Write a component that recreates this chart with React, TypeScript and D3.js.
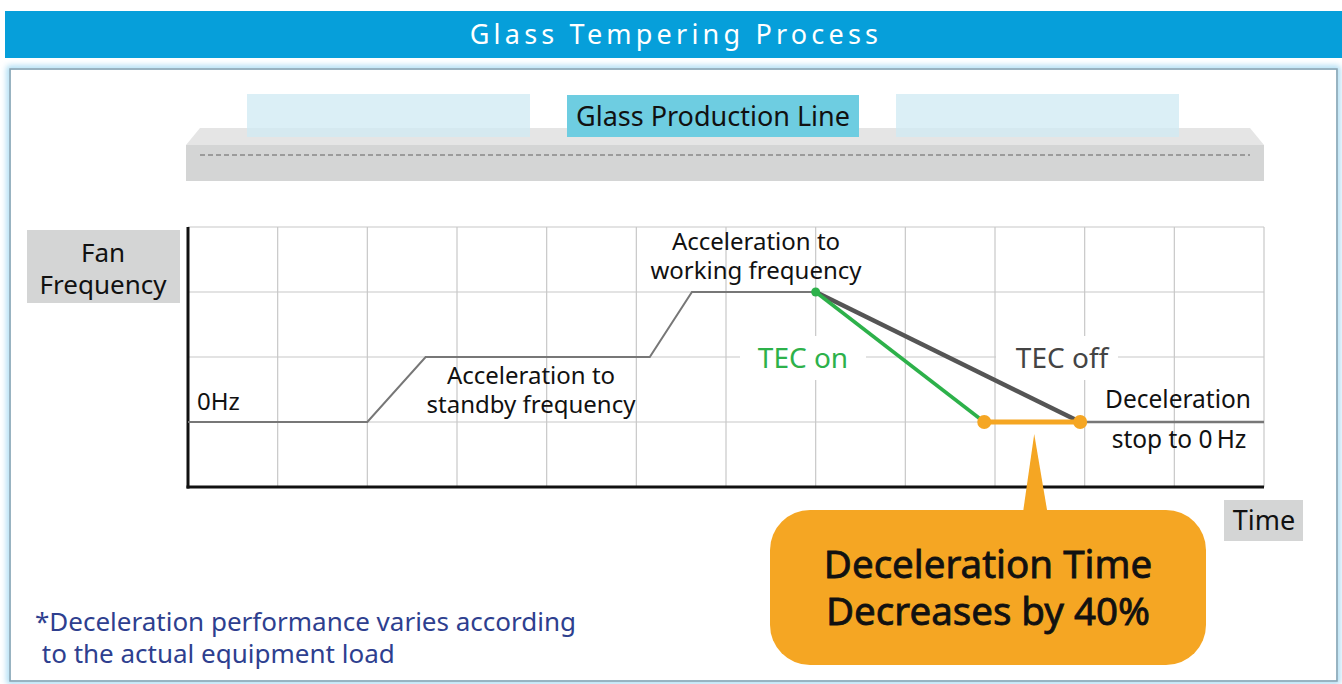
import React from "react";
import * as d3 from "d3";

// ---- data ----
const gridCols = d3.range(0, 13); // time grid 0..12
const gridRows = d3.range(0, 5); // level grid 0..4
const baseT = [0, 2, 2.65, 5.15, 5.62, 7];
const baseF = [1, 1, 2, 2, 3, 3];
const tecOffT = [7, 9.95];
const tecOffF = [3, 1];
const tecOnT = [7, 8.88];
const tecOnF = [3, 1];
const tailT = [9.95, 12];
const tailF = [1, 1];
const title = "Glass Tempering Process";
const lineLabel = "Glass Production Line";
const yLabel = ["Fan", "Frequency"];
const xLabel = "Time";
const standbyLabel = ["Acceleration to", "standby frequency"];
const workingLabel = ["Acceleration to", "working frequency"];
const decelLabel = ["Deceleration", "stop to 0\u2009Hz"];
const calloutLines = ["Deceleration Time", "Decreases by 40%"];
const noteLines = ["*Deceleration performance varies according", " to the actual equipment load"];

const FONT = "'Noto Sans', 'Open Sans', sans-serif";

export default function App() {
  const W = 1342, H = 684;
  const x = d3.scaleLinear().domain([0, 12]).range([188, 1264]);
  const y = d3.scaleLinear().domain([0, 4]).range([487, 227]);
  const line = d3.line<[number, number]>().x(d => x(d[0])).y(d => y(d[1]));
  const zip = (a: number[], b: number[]) => a.map((v, i) => [v, b[i]] as [number, number]);

  const onEnd = x(tecOnT[1]);
  const offEnd = x(tecOffT[1]);
  const zeroY = y(1);
  const midOrange = (onEnd + offEnd) / 2 + 5;

  return (
    <div style={{ position: "absolute", left: 0, top: 0 }}>
      <svg width={W} height={H} style={{ display: "block", background: "#fff" }} fontFamily={FONT}>
        <defs>
          <filter id="glow" x="-5%" y="-5%" width="110%" height="110%">
            <feGaussianBlur stdDeviation="3" />
          </filter>
        </defs>
        {/* header */}
        <rect x={5} y={11} width={1337} height={47} fill="#069fda" />
        <text x={676} y={44} textAnchor="middle" fill="#fff" fontSize={27} letterSpacing={4.2}>
          {title}
        </text>
        {/* panel */}
        <rect x={10} y={69} width={1327} height={612} fill="none" stroke="#9fd8f2" strokeWidth={6} filter="url(#glow)" />
        <rect x={10} y={69} width={1327} height={612} fill="none" stroke="#8aa3b0" strokeWidth={1.5} />
        <rect x={11} y={70} width={1325} height={610} fill="#fff" />

        {/* production line */}
        <path d="M186,145 L200,128 L1250,128 L1264,145 Z" fill="#e5e5e5" />
        <rect x={186} y={145} width={1078} height={36} fill="#d4d5d5" />
        <line x1={200} x2={1250} y1={155} y2={155} stroke="#888" strokeWidth={1.5} strokeDasharray="5,3" />
        <rect x={247} y={94} width={283} height={43} fill="#cfeaf3" opacity={0.75} />
        <rect x={896} y={94} width={283} height={43} fill="#cfeaf3" opacity={0.75} />
        <rect x={567} y={95} width={292} height={42} fill="#6ecde1" />
        <text x={713} y={126} textAnchor="middle" fontSize={27} fill="#111">{lineLabel}</text>

        {/* grid */}
        {gridCols.map(c => (
          <line key={"c" + c} x1={x(c)} x2={x(c)} y1={y(4)} y2={y(0)} stroke="#c8c8c8" strokeWidth={1.2} />
        ))}
        {gridRows.map(r => (
          <line key={"r" + r} x1={x(0)} x2={x(12)} y1={y(r)} y2={y(r)} stroke="#c8c8c8" strokeWidth={1.2} />
        ))}
        {/* axes */}
        <line x1={x(0)} x2={x(0)} y1={y(4)} y2={y(0) + 1.5} stroke="#111" strokeWidth={3} />
        <line x1={x(0) - 1.5} x2={x(12)} y1={y(0)} y2={y(0)} stroke="#111" strokeWidth={3} />

        {/* label backgrounds for TEC */}
        <rect x={740} y={336} width={126} height={44} fill="#fff" />
        <rect x={996} y={336} width={122} height={44} fill="#fff" />

        {/* lines */}
        <path d={line(zip(baseT, baseF)) || ""} fill="none" stroke="#777" strokeWidth={2} />
        <path d={line(zip(tailT, tailF)) || ""} fill="none" stroke="#777" strokeWidth={2.5} />
        <path d={line(zip(tecOffT, tecOffF)) || ""} fill="none" stroke="#555" strokeWidth={4.5} />
        <path d={line(zip(tecOnT, tecOnF)) || ""} fill="none" stroke="#2db14a" strokeWidth={3.5} />
        <circle cx={x(tecOnT[0])} cy={y(tecOnF[0])} r={4.5} fill="#2db14a" />
        <line x1={onEnd} x2={offEnd} y1={zeroY} y2={zeroY} stroke="#f5a623" strokeWidth={5} />
        <circle cx={onEnd} cy={zeroY} r={7} fill="#f5a623" />
        <circle cx={offEnd} cy={zeroY} r={7} fill="#f5a623" />

        {/* chart texts */}
        <text x={197} y={410} fontSize={24} fill="#111">0Hz</text>
        {standbyLabel.map((t, i) => (
          <text key={"s" + i} x={531} y={384 + i * 29} textAnchor="middle" fontSize={24} fill="#111">{t}</text>
        ))}
        {workingLabel.map((t, i) => (
          <text key={"w" + i} x={756} y={250 + i * 29} textAnchor="middle" fontSize={24} fill="#111">{t}</text>
        ))}
        <text x={803} y={368} textAnchor="middle" fontSize={28} fill="#2db14a">TEC on</text>
        <text x={1062} y={368} textAnchor="middle" fontSize={28} fill="#444">TEC off</text>
        <text x={1178} y={408} textAnchor="middle" fontSize={24.5} fill="#111">{decelLabel[0]}</text>
        <text x={1179} y={448} textAnchor="middle" fontSize={24.5} fill="#111">{decelLabel[1]}</text>

        {/* axis label boxes */}
        <rect x={27} y={230} width={153} height={73} fill="#d4d5d5" />
        {yLabel.map((t, i) => (
          <text key={"y" + i} x={103} y={262 + i * 32} textAnchor="middle" fontSize={26} fill="#111">{t}</text>
        ))}
        <rect x={1224} y={500} width={79} height={41} fill="#d4d5d5" />
        <text x={1264} y={530} textAnchor="middle" fontSize={27} fill="#111">{xLabel}</text>

        {/* callout */}
        <path d={`M${midOrange - 3},${zeroY + 12} L${midOrange + 10},511 L${midOrange - 14},511 Z`} fill="#f5a623" />
        <rect x={770} y={510} width={436} height={155} rx={40} ry={40} fill="#f5a623" />
        {calloutLines.map((t, i) => (
          <text key={"o" + i} x={988} y={578 + i * 47} textAnchor="middle" fontSize={38.5} fill="#111" stroke="#111" strokeWidth={0.8}>{t}</text>
        ))}

        {/* note */}
        {noteLines.map((t, i) => (
          <text key={"n" + i} x={35} y={631 + i * 32} fontSize={26} fill="#2e3f8f" style={{ whiteSpace: "pre" }}>{t}</text>
        ))}
      </svg>
    </div>
  );
}
